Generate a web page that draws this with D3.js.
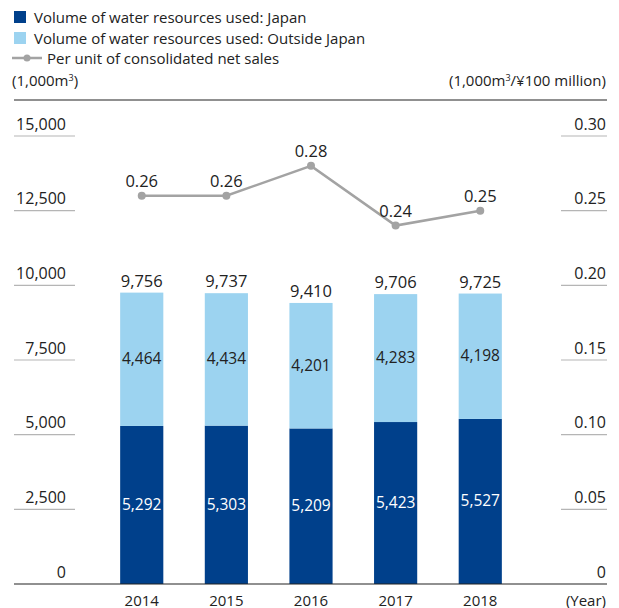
<!DOCTYPE html>
<html>
<head>
<meta charset="utf-8">
<script src="https://cdn.jsdelivr.net/npm/d3@7"></script>
<style>
  html, body { margin: 0; padding: 0; background: #fff; }
  svg text { font-family: "Open Sans", "Noto Sans", sans-serif; fill: #222; }
</style>
</head>
<body>
<svg id="chart" width="619" height="608"></svg>
<script>
// Water resources used (1,000 m3) and intensity per ¥100 million of net sales
const years = ["2014", "2015", "2016", "2017", "2018"];
const japan = [5292, 5303, 5209, 5423, 5527];
const outside = [4464, 4434, 4201, 4283, 4198];
const totals = [9756, 9737, 9410, 9706, 9725];
const perUnit = [0.26, 0.26, 0.28, 0.24, 0.25];
const leftTicks = [0, 2500, 5000, 7500, 10000, 12500, 15000];
const rightTicks = [0, 0.05, 0.10, 0.15, 0.20, 0.25, 0.30];

const colors = { japan: "#00408b", outside: "#9cd3f0", line: "#a3a3a3" };
const fsLegend = 15, fsTick = 16, fsValue = 16.5, fsInBar = 15.5, fsYear = 15;

const svg = d3.select("#chart");
const plotLeft = 14, plotRight = 607, plotTop = 136, plotBase = 584;

const x = d3.scaleBand().domain(years).range([99, 523]).paddingInner(0.49).paddingOuter(0.25);
const yL = d3.scaleLinear().domain([0, 15000]).range([plotBase, plotTop]);
const yR = d3.scaleLinear().domain([0, 0.30]).range([plotBase, plotTop]);

const fmt = d3.format(",");

// Legend
const legend = svg.append("g");
legend.append("rect").attr("x", 14).attr("y", 11).attr("width", 12).attr("height", 12).attr("fill", colors.japan);
legend.append("text").attr("x", 34).attr("y", 22.5).attr("font-size", fsLegend).text("Volume of water resources used: Japan");
legend.append("rect").attr("x", 14).attr("y", 32).attr("width", 12).attr("height", 12).attr("fill", colors.outside);
legend.append("text").attr("x", 34).attr("y", 43.5).attr("font-size", fsLegend).text("Volume of water resources used: Outside Japan");
legend.append("line").attr("x1", 12).attr("x2", 42).attr("y1", 58).attr("y2", 58).attr("stroke", colors.line).attr("stroke-width", 2.5);
legend.append("circle").attr("cx", 27).attr("cy", 58).attr("r", 3.5).attr("fill", colors.line);
legend.append("text").attr("x", 47).attr("y", 63.5).attr("font-size", fsLegend).text("Per unit of consolidated net sales");

// Unit labels
const unitL = svg.append("text").attr("x", 12).attr("y", 86).attr("font-size", fsLegend);
unitL.append("tspan").text("(1,000m");
unitL.append("tspan").attr("font-size", 9).attr("dy", -5).text("3");
unitL.append("tspan").attr("dy", 5).text(")");

const unitR = svg.append("text").attr("x", 606).attr("y", 86).attr("font-size", fsLegend).attr("text-anchor", "end");
unitR.append("tspan").text("(1,000m");
unitR.append("tspan").attr("font-size", 9).attr("dy", -5).text("3");
unitR.append("tspan").attr("dy", 5).text("/¥100 million)");

// Top rule
svg.append("line").attr("x1", plotLeft).attr("x2", plotRight).attr("y1", 100).attr("y2", 100).attr("stroke", "#222").attr("stroke-width", 1.2);

// Left axis: labels with short grey underlines
const axisL = svg.append("g");
leftTicks.forEach(t => {
  const y = yL(t);
  axisL.append("text").attr("x", 66).attr("y", y - 6.5).attr("font-size", fsTick).attr("text-anchor", "end").text(fmt(t));
  if (t > 0) axisL.append("line").attr("x1", 14).attr("x2", 75).attr("y1", y).attr("y2", y).attr("stroke", "#b5b5b5").attr("stroke-width", 1.2);
});

// Right axis
const axisR = svg.append("g");
rightTicks.forEach(t => {
  const y = yR(t);
  axisR.append("text").attr("x", 606).attr("y", y - 6.5).attr("font-size", fsTick).attr("text-anchor", "end").text(t === 0 ? "0" : d3.format(".2f")(t));
  if (t > 0) axisR.append("line").attr("x1", 561).attr("x2", 607).attr("y1", y).attr("y2", y).attr("stroke", "#b5b5b5").attr("stroke-width", 1.2);
});

// Stacked bars
const bars = svg.append("g");
years.forEach((yr, i) => {
  const bx = x(yr), bw = x.bandwidth(), cx = bx + bw / 2;
  const yJ = yL(japan[i]);
  const yT = yL(japan[i] + outside[i]);
  bars.append("rect").attr("x", bx).attr("y", yJ).attr("width", bw).attr("height", plotBase - yJ).attr("fill", colors.japan);
  bars.append("rect").attr("x", bx).attr("y", yT).attr("width", bw).attr("height", yJ - yT).attr("fill", colors.outside);
  bars.append("text").attr("x", cx).attr("y", (plotBase + yJ) / 2 + 5).attr("font-size", fsInBar).attr("text-anchor", "middle").style("fill", "#fff").text(fmt(japan[i]));
  bars.append("text").attr("x", cx).attr("y", (yJ + yT) / 2 + 5).attr("font-size", fsInBar).attr("text-anchor", "middle").text(fmt(outside[i]));
  bars.append("text").attr("x", cx).attr("y", yL(totals[i]) - 6).attr("font-size", fsValue).attr("text-anchor", "middle").text(fmt(totals[i]));
  svg.append("text").attr("x", cx).attr("y", 605.5).attr("font-size", fsYear).attr("text-anchor", "middle").text(yr);
});

// Baseline
svg.append("line").attr("x1", plotLeft).attr("x2", plotRight).attr("y1", plotBase).attr("y2", plotBase).attr("stroke", "#222").attr("stroke-width", 1.2);
svg.append("text").attr("x", 606).attr("y", 605.5).attr("font-size", fsYear).attr("text-anchor", "end").text("(Year)");

// Per-unit line
const pts = years.map((yr, i) => [x(yr) + x.bandwidth() / 2, yR(perUnit[i])]);
svg.append("path").attr("d", d3.line()(pts)).attr("fill", "none").attr("stroke", colors.line).attr("stroke-width", 2.5);
pts.forEach((p, i) => {
  svg.append("circle").attr("cx", p[0]).attr("cy", p[1]).attr("r", 4).attr("fill", colors.line);
  svg.append("text").attr("x", p[0]).attr("y", p[1] - 8.5).attr("font-size", fsValue).attr("text-anchor", "middle").text(d3.format(".2f")(perUnit[i]));
});
</script>
</body>
</html>
